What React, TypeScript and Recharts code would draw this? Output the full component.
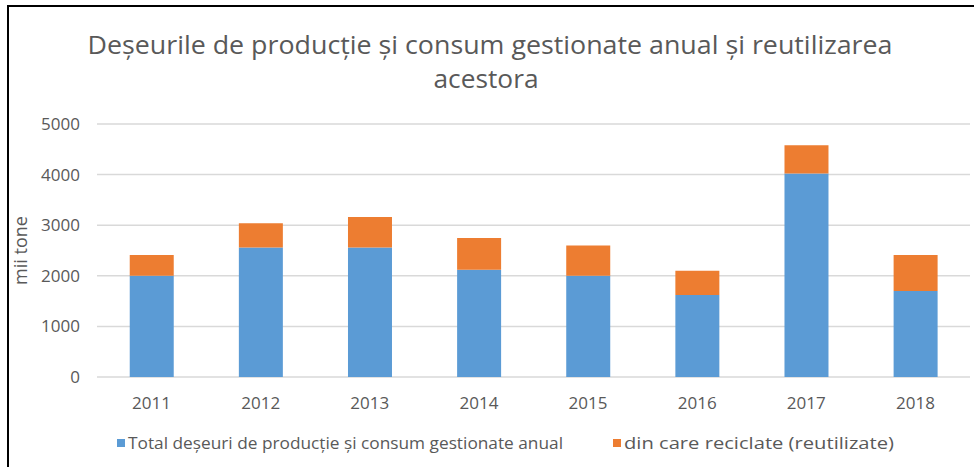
import { Bar, BarChart, CartesianGrid, XAxis, YAxis } from "recharts";

const years = ["2011", "2012", "2013", "2014", "2015", "2016", "2017", "2018"];
const totalManaged = [2000, 2560, 2560, 2120, 2000, 1620, 4020, 1700];
const recycled = [410, 480, 600, 625, 600, 480, 560, 710];
const yTicks = [0, 1000, 2000, 3000, 4000, 5000];

const seriesNames = [
  "Total deșeuri de producție și consum gestionate anual",
  "din care reciclate (reutilizate)",
];
const seriesColors = ["#5B9BD5", "#ED7D31"];

const FONT = "'Open Sans', 'Noto Sans', sans-serif";
const TEXT = "#595959";

// legend layout (x of the swatch, width the label is fitted to)
const legendX = [117, 613];
const legendWidth = [435, 270];

export default function App() {
  const data = years.map((year, i) => ({
    year,
    total: totalManaged[i],
    recycled: recycled[i],
  }));

  return (
    <div
      style={{
        position: "absolute",
        left: 0,
        top: 0,
        width: 974,
        height: 467,
        overflow: "hidden",
        background: "#fff",
        fontFamily: FONT,
      }}
    >
      {/* frame of the figure */}
      <div
        style={{
          position: "absolute",
          left: 7,
          top: 5,
          width: 980,
          height: 480,
          borderLeft: "2px solid #000",
          borderTop: "2px solid #000",
        }}
      />
      <svg
        width={974}
        height={110}
        style={{ position: "absolute", left: 0, top: 0 }}
      >
        <text
          x={490}
          y={54}
          textAnchor="middle"
          fill={TEXT}
          fontSize={26}
          fontFamily={FONT}
          textLength={805}
          lengthAdjust="spacingAndGlyphs"
        >
          Deșeurile de producție și consum gestionate anual și reutilizarea
        </text>
        <text
          x={486}
          y={88}
          textAnchor="middle"
          fill={TEXT}
          fontSize={26}
          fontFamily={FONT}
          textLength={105}
          lengthAdjust="spacingAndGlyphs"
        >
          acestora
        </text>
      </svg>

      <BarChart
        width={974}
        height={467}
        data={data}
        margin={{ top: 124, right: 4, bottom: 60, left: 0 }}
        barCategoryGap="30%"
        style={{ position: "absolute", left: 0, top: 0 }}
      >
        <CartesianGrid vertical={false} stroke="#d9d9d9" strokeWidth={1.5} />
        <XAxis
          dataKey="year"
          height={30}
          axisLine={false}
          tickLine={false}
          tickMargin={14}
          tick={{ fontSize: 17, fill: TEXT, fontFamily: FONT }}
        />
        <YAxis
          width={97}
          domain={[0, 5000]}
          ticks={yTicks}
          axisLine={false}
          tickLine={false}
          tickMargin={11}
          tick={{ fontSize: 17, fill: TEXT, fontFamily: FONT }}
          label={{
            value: "mii tone",
            angle: -90,
            position: "insideLeft",
            dx: 16,
            dy: 0,
            style: {
              fontSize: 18,
              fill: TEXT,
              fontFamily: FONT,
              textAnchor: "middle",
            },
          }}
        />
        <Bar
          dataKey="total"
          name={seriesNames[0]}
          stackId="a"
          fill={seriesColors[0]}
          isAnimationActive={false}
        />
        <Bar
          dataKey="recycled"
          name={seriesNames[1]}
          stackId="a"
          fill={seriesColors[1]}
          isAnimationActive={false}
        />
      </BarChart>

      {/* legend */}
      <svg
        width={974}
        height={40}
        style={{ position: "absolute", left: 0, top: 425 }}
      >
        {seriesNames.map((name, i) => (
          <g key={name}>
            <rect
              x={legendX[i]}
              y={14}
              width={8}
              height={8}
              fill={seriesColors[i]}
            />
            <text
              x={legendX[i] + 11}
              y={24}
              fill={TEXT}
              fontSize={17}
              fontFamily={FONT}
              textLength={legendWidth[i]}
              lengthAdjust="spacingAndGlyphs"
            >
              {name}
            </text>
          </g>
        ))}
      </svg>
    </div>
  );
}
